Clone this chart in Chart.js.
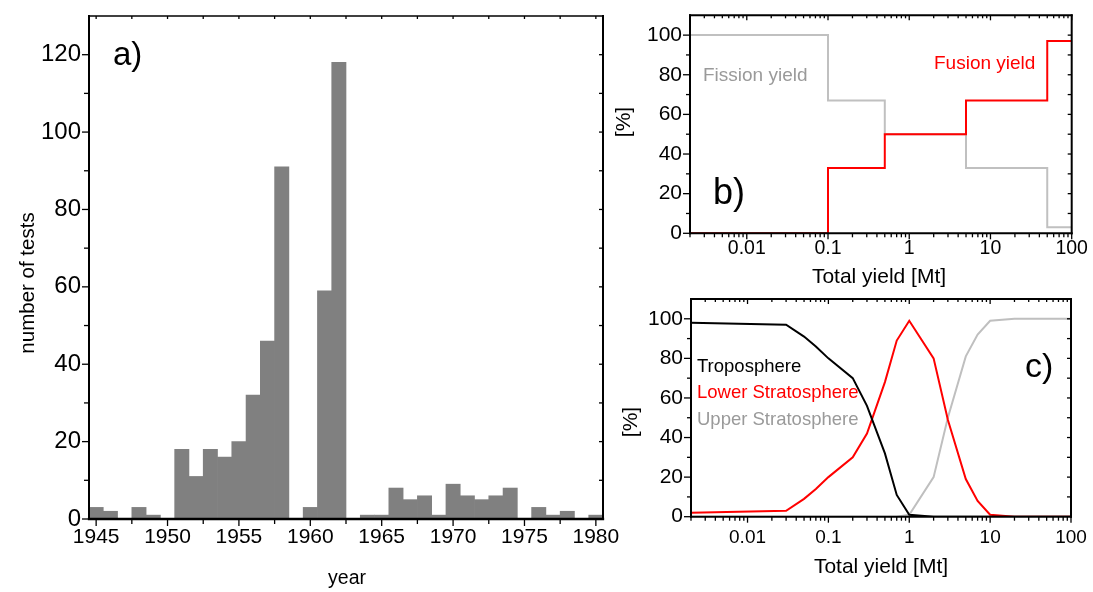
<!DOCTYPE html>
<html><head><meta charset="utf-8">
<script src="https://cdn.jsdelivr.net/npm/chart.js@4.4.1/dist/chart.umd.min.js"></script>
<style>
html,body{margin:0;padding:0;background:#fff;}
#wrap{position:relative;width:1093px;height:592px;overflow:hidden;background:#fff;}
canvas{position:absolute;}
</style></head><body>
<div id="wrap">
<canvas id="ca" width="622" height="592" style="left:0;top:0"></canvas>
<canvas id="cb" width="488" height="290" style="left:605px;top:0"></canvas>
<canvas id="cc" width="488" height="302" style="left:605px;top:290px"></canvas>
</div>
<script>
// ---------- data ----------
const years = [1945,1946,1947,1948,1949,1950,1951,1952,1953,1954,1955,1956,1957,1958,1959,1960,1961,1962,
               1963,1964,1965,1966,1967,1968,1969,1970,1971,1972,1973,1974,1975,1976,1977,1978,1979,1980];
const testCounts = [3,2,0,3,1,0,18,11,18,16,20,32,46,91,0,3,59,118,
                    0,1,1,8,5,6,1,9,6,5,6,8,0,3,1,2,0,1];
const yearTicks = [1945,1950,1955,1960,1965,1970,1975,1980];
const yearMinor = [1947.5,1952.5,1957.5,1962.5,1967.5,1972.5,1977.5];
const countTicks = [0,20,40,60,80,100,120];
const countMinor = [10,30,50,70,90,110];

const yieldSteps = [0.002, 0.1, 0.5, 5, 50, 100];
const fusionPct  = [0, 33, 50, 67, 97, 97];
const fissionPct = [100, 67, 50, 33, 3, 3];

const yieldC = [0.002,0.03,0.05,0.07,0.1,0.2,0.3,0.5,0.7,1,2,3,5,7,10,20,50,100];
const tropoPct = [98,97,91,86,80,70,56,32,11,1,0,0,0,0,0,0,0,0];
const lowerPct = [2,3,9,14,20,30,42,68,89,99,80,49,19,8,1,0,0,0];
const upperPct = [0,0,0,0,0,0,0,0,0,1,20,50,81,92,99,100,100,100];

const logTicks = [0.01,0.1,1,10,100];
const logTickLabels = ['0.01','0.1','1','10','100'];
const pctTicks = [0,20,40,60,80,100];
const pctMinor = [10,30,50,70,90];

// ---------- helpers ----------
const SANS = "'Liberation Sans', Arial, sans-serif";

const logMinor = [];
for (let d = -3; d <= 1; d++) for (let k = 2; k <= 9; k++) {
  const v = k * Math.pow(10, d);
  if (v >= 0.002 && v <= 100) logMinor.push(v);
}
const pctAll = [10,20,30,40,50,60,70,80,90,100];

function zeroPad(s){ s.paddingTop=0; s.paddingBottom=0; s.paddingLeft=0; s.paddingRight=0; }

function frame(spec) {
  return {
    id: 'frame',
    afterDraw(chart) {
      const ctx = chart.ctx, a = chart.chartArea, xs = chart.scales.x, ys = chart.scales.y;
      ctx.save();
      ctx.strokeStyle = '#000';
      ctx.lineCap = 'butt';
      spec.ticks.forEach(t => {
        ctx.lineWidth = t.w || 1.3;
        t.values.forEach(v => {
          ctx.beginPath();
          if (t.side === 'left' || t.side === 'right') {
            const py = ys.getPixelForValue(v);
            const x0 = t.side === 'left' ? a.left : a.right;
            const dx = t.side === 'left' ? -t.len : t.len;
            ctx.moveTo(x0, py); ctx.lineTo(x0 + dx, py);
          } else {
            const px = xs.getPixelForValue(v);
            const y0 = t.side === 'bottom' ? a.bottom : a.top;
            const dy = t.side === 'bottom' ? t.len : -t.len;
            ctx.moveTo(px, y0); ctx.lineTo(px, y0 + dy);
          }
          ctx.stroke();
        });
      });
      const L = spec.lw;
      ctx.lineCap = 'square';
      const seg = (x0,y0,x1,y1,w) => { ctx.lineWidth = w; ctx.beginPath(); ctx.moveTo(x0,y0); ctx.lineTo(x1,y1); ctx.stroke(); };
      seg(a.left, a.top, a.right, a.top, L.t);
      seg(a.right, a.top, a.right, a.bottom, L.r);
      seg(a.left, a.top, a.left, a.bottom, L.l);
      seg(a.left, a.bottom, a.right, a.bottom, L.b);
      spec.texts.forEach(t => {
        ctx.save();
        ctx.font = t.font; ctx.fillStyle = t.color || '#000';
        ctx.textAlign = t.align || 'left'; ctx.textBaseline = 'alphabetic';
        ctx.translate(t.x, t.y);
        if (t.rot) ctx.rotate(t.rot);
        ctx.fillText(t.text, 0, 0);
        ctx.restore();
      });
      ctx.restore();
    }
  };
}

const common = {
  responsive: false, devicePixelRatio: 1, animation: false, events: [],
  plugins: { legend: { display: false }, tooltip: { enabled: false } }
};

// ---------- panel a ----------
new Chart(document.getElementById('ca'), {
  type: 'bar',
  data: { datasets: [{
    data: years.map((y, i) => ({ x: y, y: testCounts[i] })),
    backgroundColor: '#808080', borderWidth: 0,
    barPercentage: 1, categoryPercentage: 1
  }]},
  options: Object.assign({}, common, {
    layout: { padding: { left: 0, top: 16, right: 19, bottom: 0 } },
    scales: {
      x: { type: 'linear', min: 1944.5, max: 1980.5, offset: false,
        afterBuildTicks: s => { s.ticks = yearTicks.map(v => ({ value: v })); },
        ticks: { font: { family: SANS, size: 21 }, color: '#000', padding: 5.5, autoSkip: false, maxRotation: 0,
                 callback: v => String(v) },
        grid: { display: false, drawTicks: false, offset: false }, border: { display: false },
        afterFit: s => { s.height = 73; zeroPad(s); } },
      y: { type: 'linear', min: 0, max: 130,
        afterBuildTicks: s => { s.ticks = countTicks.map(v => ({ value: v })); },
        ticks: { font: { family: SANS, size: 24 }, color: '#000', padding: 8, autoSkip: false },
        grid: { display: false, drawTicks: false }, border: { display: false },
        afterFit: s => { s.width = 89; zeroPad(s); } }
    }
  }),
  plugins: [frame({
    lw: { l: 2, b: 2.3, t: 1.3, r: 2 },
    ticks: [
      { side: 'left', values: countTicks, len: 7 },
      { side: 'left', values: countMinor, len: 5 },
      { side: 'right', values: countTicks.concat(countMinor), len: -4 },
      { side: 'bottom', values: yearTicks, len: 7 },
      { side: 'bottom', values: yearMinor, len: 5 },
      { side: 'top', values: yearTicks.concat(yearMinor), len: -3 }
    ],
    texts: [
      { text: 'a)', x: 113, y: 65, font: `33px ${SANS}` },
      { text: 'number of tests', x: 34, y: 283, rot: -Math.PI / 2, align: 'center', font: `20.5px ${SANS}` },
      { text: 'year', x: 347, y: 584, align: 'center', font: `19.5px ${SANS}` }
    ]
  })]
});

// ---------- log panels ----------
function logX(size, pad, h) {
  return { type: 'logarithmic', min: 0.002, max: 100,
    afterBuildTicks: s => { s.ticks = logTicks.map(v => ({ value: v })); },
    ticks: { font: { family: SANS, size: size }, color: '#000', padding: pad, autoSkip: false, maxRotation: 0,
             callback: (v, i) => logTickLabels[i] },
    grid: { display: false, drawTicks: false }, border: { display: false },
    afterFit: s => { s.height = h; zeroPad(s); } };
}
function pctY(size, w) {
  return { type: 'linear', min: 0, max: 110,
    afterBuildTicks: s => { s.ticks = pctTicks.map(v => ({ value: v })); },
    ticks: { font: { family: SANS, size: size }, color: '#000', padding: 8, autoSkip: false },
    grid: { display: false, drawTicks: false }, border: { display: false },
    afterFit: s => { s.width = w; zeroPad(s); } };
}
const logFrameTicks = [
  { side: 'left', values: pctTicks, len: 7 },
  { side: 'left', values: pctMinor, len: 4 },
  { side: 'right', values: pctAll, len: -4 },
  { side: 'bottom', values: logTicks, len: 6 },
  { side: 'bottom', values: logMinor, len: 4 },
  { side: 'top', values: logTicks, len: -5 },
  { side: 'top', values: logMinor, len: -3 }
];

// ---------- panel b ----------
new Chart(document.getElementById('cb'), {
  type: 'line',
  data: { datasets: [
    { data: yieldSteps.map((x, i) => ({ x, y: fusionPct[i] })), borderColor: '#ff0000', borderWidth: 2,
      stepped: true, pointRadius: 0, fill: false },
    { data: yieldSteps.map((x, i) => ({ x, y: fissionPct[i] })), borderColor: '#c0c0c0', borderWidth: 2,
      stepped: true, pointRadius: 0, fill: false }
  ]},
  options: Object.assign({}, common, {
    layout: { padding: { left: 0, top: 15.3, right: 21.3, bottom: 0 } },
    scales: { x: logX(19.5, 4, 56.7), y: pctY(21, 85) }
  }),
  plugins: [frame({
    lw: { l: 2, b: 2, t: 2, r: 2 },
    ticks: logFrameTicks,
    texts: [
      { text: '[%]', x: 25, y: 122, rot: -Math.PI / 2, align: 'center', font: `21px ${SANS}` },
      { text: 'b)', x: 108, y: 204, font: `36px ${SANS}` },
      { text: 'Fission yield', x: 98, y: 81, color: '#9a9a9a', font: `19px ${SANS}` },
      { text: 'Fusion yield', x: 329, y: 69, color: '#ff0000', font: `19px ${SANS}` },
      { text: 'Total yield [Mt]', x: 274, y: 283, align: 'center', font: `21px ${SANS}` }
    ]
  })]
});

// ---------- panel c ----------
new Chart(document.getElementById('cc'), {
  type: 'line',
  data: { datasets: [
    { data: yieldC.map((x, i) => ({ x, y: tropoPct[i] })), borderColor: '#000000', borderWidth: 2,
      pointRadius: 0, fill: false, tension: 0 },
    { data: yieldC.map((x, i) => ({ x, y: lowerPct[i] })), borderColor: '#ff0000', borderWidth: 2,
      pointRadius: 0, fill: false, tension: 0 },
    { data: yieldC.map((x, i) => ({ x, y: upperPct[i] })), borderColor: '#bfbfbf', borderWidth: 2,
      pointRadius: 0, fill: false, tension: 0 }
  ]},
  options: Object.assign({}, common, {
    layout: { padding: { left: 0, top: 9, right: 22, bottom: 0 } },
    scales: { x: logX(19, 9.4, 75.3), y: pctY(21, 86) }
  }),
  plugins: [frame({
    lw: { l: 2, b: 2, t: 2, r: 2 },
    ticks: logFrameTicks,
    texts: [
      { text: '[%]', x: 32, y: 132, rot: -Math.PI / 2, align: 'center', font: `21px ${SANS}` },
      { text: 'c)', x: 420, y: 87, font: `34px ${SANS}` },
      { text: 'Troposphere', x: 92, y: 82, color: '#000', font: `18.5px ${SANS}` },
      { text: 'Lower Stratosphere', x: 92, y: 108, color: '#ff0000', font: `18.5px ${SANS}` },
      { text: 'Upper Stratosphere', x: 92, y: 135, color: '#9a9a9a', font: `18.5px ${SANS}` },
      { text: 'Total yield [Mt]', x: 276, y: 283, align: 'center', font: `21px ${SANS}` }
    ]
  })]
});
</script>
</body></html>
